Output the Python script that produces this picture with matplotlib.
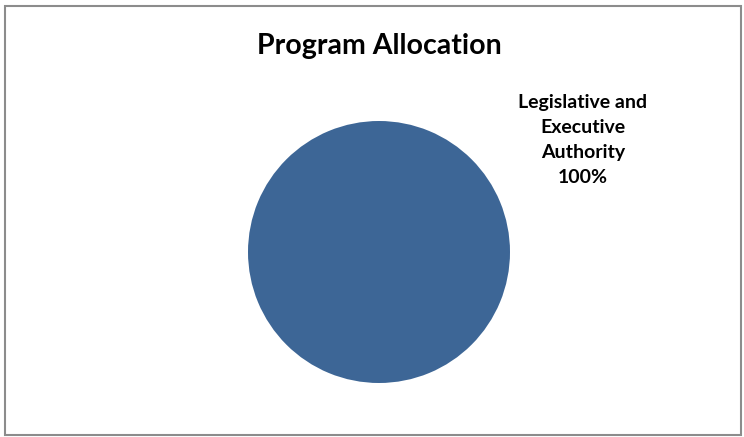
import matplotlib.pyplot as plt
from matplotlib.patches import Rectangle

categories = ['Legislative and\nExecutive\nAuthority']
values = [100]
colors = ['#3D6696']

plt.rcParams['font.family'] = ['Lato', 'DejaVu Sans']

fig = plt.figure(figsize=(7.44, 4.37), dpi=100)

# outer chart border
fig.patches.append(Rectangle((5 / 744, 2 / 437), 736 / 744, 429 / 437,
                             transform=fig.transFigure, fill=False,
                             edgecolor='#8C8C8C', linewidth=1.5))

ax = fig.add_axes([248 / 744, 1 - 383 / 437, 262 / 744, 262 / 437])
ax.pie(values, colors=colors, startangle=90, counterclock=False,
       radius=1, wedgeprops={'linewidth': 0}, frame=False)
ax.set_xlim(-1, 1)
ax.set_ylim(-1, 1)
ax.set_aspect('equal')
ax.axis('off')

fig.text(379 / 744, 1 - 46 / 437, 'Program Allocation', ha='center', va='center',
         fontsize=20.5, fontweight='bold')

total = sum(values)
for cat, v in zip(categories, values):
    fig.text(583 / 744, 1 - 140 / 437, f'{cat}\n{v / total:.0%}', ha='center', va='center',
             fontsize=14, fontweight='bold', linespacing=1.55)

fig.savefig('out.png', dpi=100)
